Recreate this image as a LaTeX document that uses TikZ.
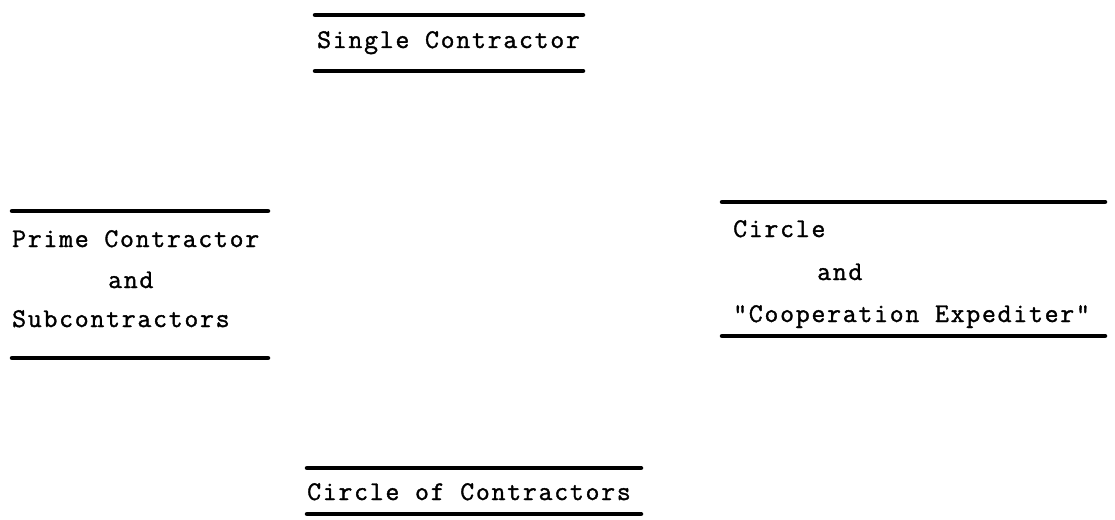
\documentclass[tikz,border=0pt]{standalone}
\usepackage{fontspec}
\newfontfamily\twfont[LetterSpace=6.5,FakeBold=1.3]{Latin Modern Mono}
\begin{document}
\begin{tikzpicture}[x=1pt,y=-1pt,
  lbl/.style={anchor=base west,inner sep=0pt,font=\twfont\fontsize{27}{27}\selectfont},
  rule/.style={line width=4.5pt,line cap=round}]
\useasboundingbox (0,0) rectangle (1115,519);
% Single Contractor
\node[lbl] (sc) at (317,48) {Single Contractor};
\draw[rule] (315,15) -- (583,15);
\draw[rule] (315,71) -- (583,71);
% Prime Contractor and Subcontractors
\node[lbl] (pc1) at (12,247) {Prime Contractor};
\node[lbl] (pc2) at (108,288) {and};
\node[lbl] (pc3) at (12,327) {Subcontractors};
\draw[rule] (12,211) -- (268,211);
\draw[rule] (12,358) -- (268,358);
% Circle and Cooperation Expediter
\node[lbl] (ce1) at (733,237) {Circle};
\node[lbl] (ce2) at (817,280) {and};
\node[lbl] (ce3) at (733,322) {"Cooperation Expediter"};
\draw[rule] (722,202) -- (1105,202);
\draw[rule] (722,336) -- (1105,336);
% Circle of Contractors
\node[lbl] (cc) at (307,500) {Circle of Contractors};
\draw[rule] (307,468) -- (641,468);
\draw[rule] (307,514) -- (641,514);
\end{tikzpicture}
\end{document}
